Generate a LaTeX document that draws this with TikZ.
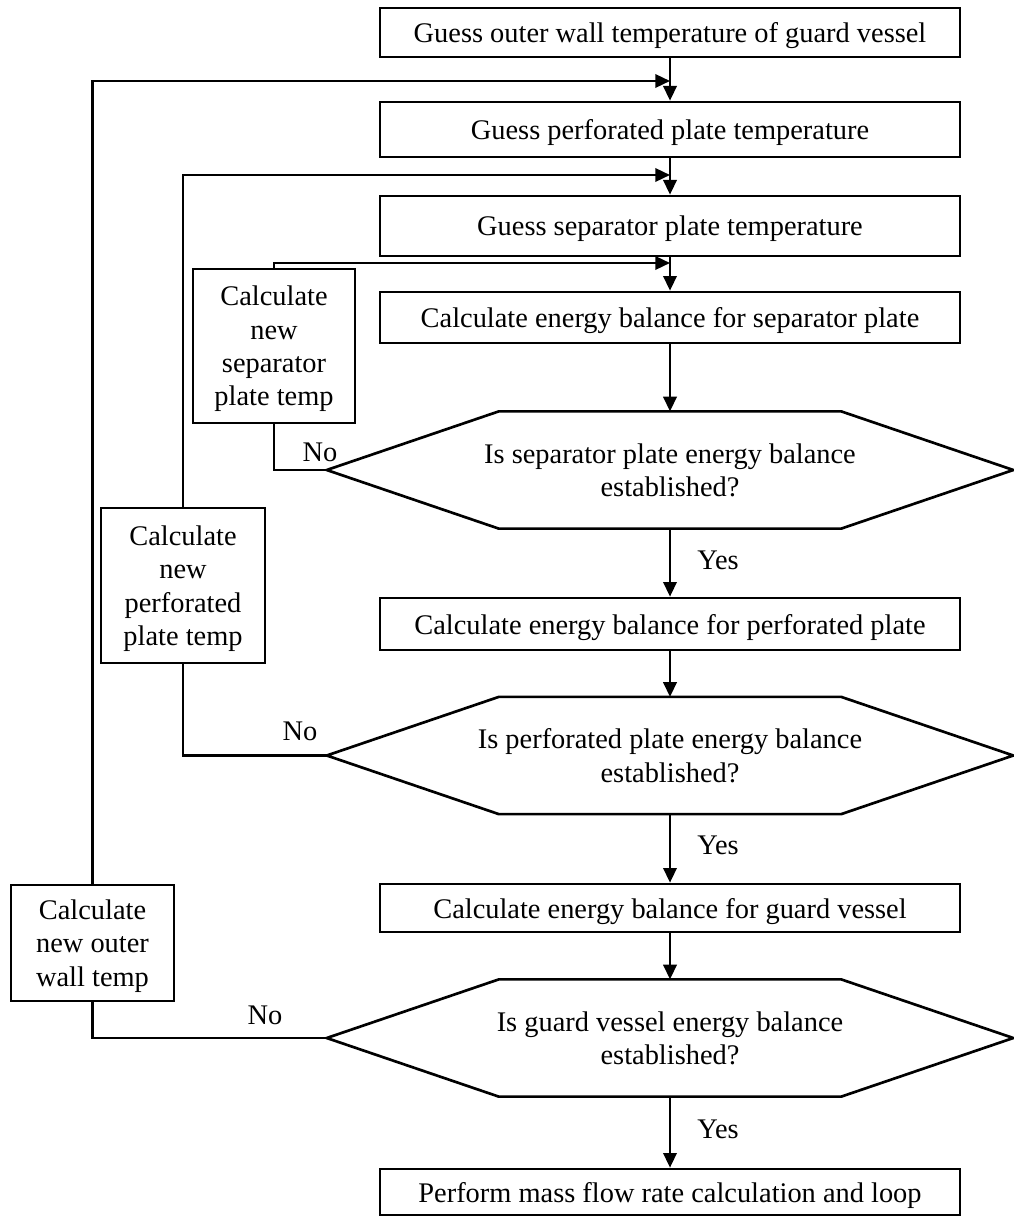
\documentclass[tikz,border=0pt]{standalone}
\usepackage{fontspec}
\setmainfont{Liberation Serif}
\usetikzlibrary{arrows.meta,calc}
\newcommand\drawhex[1]{\draw[line width=2pt] (#1.west) -- ($(#1.north west)+(172,0)$) -- ($(#1.north east)+(-172,0)$) -- (#1.east) -- ($(#1.south east)+(-172,0)$) -- ($(#1.south west)+(172,0)$) -- cycle;}
\begin{document}
\begin{tikzpicture}[x=0.75pt,y=-0.75pt,
  every node/.style={font=\fontsize{21.3pt}{25pt}\selectfont, inner sep=0pt},
  mainbox/.style={draw, line width=2pt, minimum width=435pt, align=center, text depth=0pt},
  sidebox/.style={draw, line width=2pt, align=center, text depth=0pt},
  hexnode/.style={minimum width=514.5pt, minimum height=87.5pt, align=center, text depth=0pt},
  conn/.style={line width=1.8pt},
  arr/.style={conn, -{Triangle[length=11pt,width=10pt]}}]
\useasboundingbox (0,0) rectangle (1013,1216);
% main column
\node[mainbox, minimum height=36.75pt] (b1) at (670,32.5) {Guess outer wall temperature of guard vessel};
\node[mainbox, minimum height=41.25pt] (b2) at (670,129.5) {Guess perforated plate temperature};
\node[mainbox, minimum height=45pt] (b3) at (670,226) {Guess separator plate temperature};
\node[mainbox, minimum height=38.25pt] (b4) at (670,317.5) {Calculate energy balance for separator plate};
\node[hexnode] (h1) at (670,470) {Is separator plate energy balance\\established?};
\node[mainbox, minimum height=39pt] (b5) at (670,624) {Calculate energy balance for perforated plate};
\node[hexnode] (h2) at (670,755.5) {Is perforated plate energy balance\\established?};
\node[mainbox, minimum height=36pt] (b6) at (670,908) {Calculate energy balance for guard vessel};
\node[hexnode] (h3) at (670,1038) {Is guard vessel energy balance\\established?};
\node[mainbox, minimum height=34.5pt] (b7) at (670,1192) {Perform mass flow rate calculation and loop};
\drawhex{h1}
\drawhex{h2}
\drawhex{h3}
% side boxes
\node[sidebox, minimum width=121.5pt, minimum height=115.5pt] (sepn) at (274,346) {Calculate\\new\\separator\\plate temp};
\node[sidebox, minimum width=123pt, minimum height=116.25pt] (perfn) at (183,585.5) {Calculate\\new\\perforated\\plate temp};
\node[sidebox, minimum width=122.25pt, minimum height=87pt] (outn) at (92.5,943) {Calculate\\new outer\\wall temp};
% feed points
\coordinate (f1) at (670,81);
\coordinate (f2) at (670,175);
\coordinate (f3) at (670,263);
% labels
\node (no1) at (320,452) {No};
\node (no2) at (300,731) {No};
\node (no3) at (265,1015) {No};
\node (yes1) at (718,560) {Yes};
\node (yes2) at (718,845) {Yes};
\node (yes3) at (718,1129) {Yes};
% main arrows
\draw[arr] (b1.south) -- (b2.north);
\draw[arr] (b2.south) -- (b3.north);
\draw[arr] (b3.south) -- (b4.north);
\draw[arr] (b4.south) -- (h1.north);
\draw[arr] (h1.south) -- (b5.north);
\draw[arr] (b5.south) -- (h2.north);
\draw[arr] (h2.south) -- (b6.north);
\draw[arr] (b6.south) -- (h3.north);
\draw[arr] (h3.south) -- (b7.north);
% loops
\draw[conn] (h1.west) -| (sepn.south);
\draw[arr] (sepn.north) |- (f3);
\draw[conn] (h2.west) -| (perfn.south);
\draw[arr] (perfn.north) |- (f2);
\draw[conn] (h3.west) -| (outn.south);
\draw[arr] (outn.north) |- (f1);
\end{tikzpicture}
\end{document}
